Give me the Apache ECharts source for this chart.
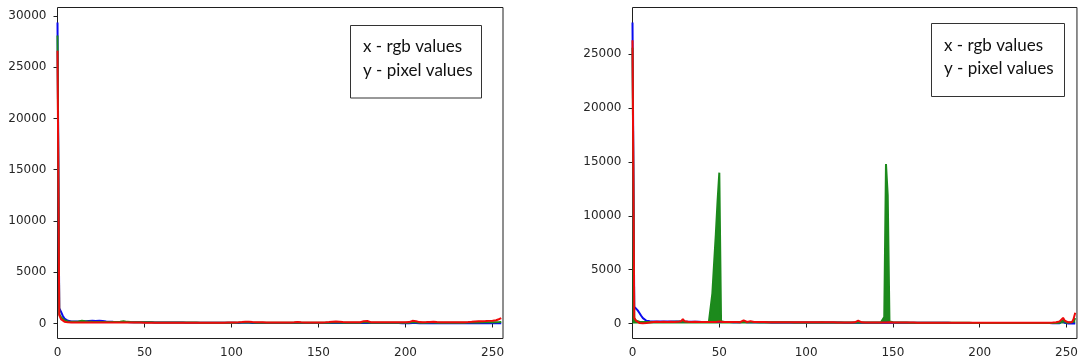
<!DOCTYPE html>
<html>
<head>
<meta charset="utf-8">
<script src="https://cdn.jsdelivr.net/npm/echarts@6/dist/echarts.min.js"></script>
<style>
  html, body { margin: 0; padding: 0; background: #fff; }
  #chart { width: 1081px; height: 362px; }
</style>
</head>
<body>
<div id="chart"></div>
<script>
// Per-channel colour histograms (256 bins each) for two images.
const xTicks = [0, 50, 100, 150, 200, 250];
const leftYTicks = [0, 5000, 10000, 15000, 20000, 25000, 30000];
const rightYTicks = [0, 5000, 10000, 15000, 20000, 25000];

const leftBlue = [
  29350,1500,1150,760,480,330,260,220,200,190,185,180,185,195,205,215,
  225,235,245,255,265,255,245,255,262,250,240,225,205,190,180,172,
  165,160,155,150,148,145,142,140,136,132,130,127,125,122,120,120,
  118,116,115,113,112,110,110,108,106,105,104,103,102,100,100,98,
  97,96,95,94,93,92,90,88,86,84,82,80,78,77,76,75,
  74,73,72,71,70,70,69,68,68,67,66,66,65,65,64,64,
  63,63,62,62,62,61,61,60,60,60,62,66,70,72,68,62,
  60,59,59,58,58,57,57,56,56,56,55,55,55,54,54,54,
  53,53,53,52,52,52,51,51,51,52,58,55,50,50,50,49,
  49,49,48,48,48,47,47,47,46,46,46,46,45,45,47,52,
  56,52,46,45,45,44,44,44,43,43,43,43,42,42,42,44,
  60,80,55,42,41,41,41,40,40,40,40,39,39,39,38,38,
  38,38,37,37,37,36,36,36,35,35,35,36,45,70,45,35,
  34,34,33,33,33,32,34,40,36,32,31,31,30,30,30,29,
  29,29,28,28,28,27,27,27,26,26,26,25,25,25,24,24,
  24,23,23,22,22,22,21,21,20,20,20,19,19,18,18,18
];
const leftGreen = [
  28100,900,620,430,310,240,200,180,170,168,170,178,195,230,265,250,
  210,190,178,170,165,162,158,155,153,152,150,148,146,144,142,141,
  140,140,143,155,180,215,225,190,160,145,138,132,128,125,122,120,
  118,116,114,113,112,111,110,109,108,107,106,105,104,103,102,101,
  100,99,98,97,96,95,94,93,92,91,90,89,88,88,87,86,
  86,85,84,84,83,83,82,82,81,81,80,80,80,79,79,79,
  78,78,78,77,77,77,78,82,88,95,100,104,108,110,105,95,
  88,84,82,80,79,78,78,77,77,76,76,76,75,75,75,74,
  74,74,74,73,73,73,74,78,85,95,102,92,82,76,74,73,
  73,72,72,72,72,71,71,71,71,72,74,78,84,92,100,106,
  110,104,95,88,83,80,78,77,76,76,76,75,75,75,78,90,
  140,220,130,85,78,76,75,75,74,74,74,74,74,73,73,73,
  73,73,73,72,72,72,72,72,72,74,80,95,150,200,120,85,
  80,78,78,80,85,92,100,108,102,92,85,80,78,77,76,76,
  76,76,76,76,76,77,77,78,79,80,82,84,86,88,92,96,
  100,104,108,110,112,114,115,116,118,120,122,125,128,130,135,140
];
const leftRed = [
  26600,820,430,270,180,130,110,100,95,92,90,90,92,95,98,100,
  102,101,104,100,98,101,103,99,100,97,99,96,98,95,97,94,
  96,93,95,92,96,94,91,93,90,92,89,91,88,90,87,89,
  86,88,85,87,84,86,83,85,82,84,81,83,80,82,79,81,
  80,78,80,77,79,76,78,75,77,74,76,73,75,72,74,71,
  73,70,72,69,71,68,70,68,69,67,69,68,70,69,72,74,
  78,82,86,90,94,98,104,110,118,126,135,145,160,175,165,150,
  140,132,126,120,115,112,110,108,106,104,102,100,98,96,95,94,
  93,92,92,91,92,94,98,104,112,122,140,128,112,104,100,98,
  96,95,94,94,95,96,98,102,108,116,124,132,142,152,165,175,
  185,178,165,150,140,132,126,122,118,116,115,114,115,118,125,145,
  230,400,240,150,130,124,122,120,118,116,115,114,113,112,112,112,
  112,112,112,113,114,115,116,118,120,125,135,160,260,340,230,150,
  135,130,128,130,136,145,158,170,160,148,138,130,125,122,120,118,
  116,115,114,113,113,113,114,115,117,120,124,130,138,148,160,172,
  185,200,210,218,225,232,240,248,256,265,275,290,320,370,440,530
];

const rightBlue = [
  27930,1560,1380,1220,980,720,500,350,260,215,200,195,190,188,186,185,
  188,192,185,180,182,186,190,184,178,182,188,192,186,180,176,172,
  168,165,162,160,158,156,154,152,150,148,146,144,142,140,140,140,
  140,140,140,138,136,134,132,130,128,126,124,122,120,120,120,140,
  160,130,120,125,140,130,120,118,116,114,112,110,108,106,105,104,
  103,102,101,100,99,98,97,96,95,94,93,92,91,90,90,90,
  89,89,88,88,88,87,87,86,86,86,86,88,92,96,94,90,
  88,87,86,85,84,84,83,83,82,82,81,81,80,80,80,80,
  80,82,90,84,80,79,79,78,78,77,77,77,76,76,76,76,
  75,75,75,80,90,85,76,74,73,72,72,71,71,70,70,70,
  69,69,68,68,67,67,66,66,65,65,64,64,63,63,62,62,
  62,61,61,60,60,60,59,59,58,58,58,57,57,56,56,56,
  55,55,55,54,54,54,53,53,52,52,52,51,51,51,50,50,
  50,49,49,48,48,48,47,47,47,46,46,45,45,45,44,44,
  44,43,43,43,42,42,41,41,40,40,40,39,39,38,38,38,
  37,36,35,34,33,32,30,40,300,60,10,8,6,5,5,4
];
const rightGreen = [
  25600,480,260,190,160,150,145,142,140,140,140,140,141,142,143,144,
  145,146,147,148,149,150,150,151,152,152,153,154,156,180,160,152,
  150,149,148,147,146,146,145,145,144,144,143,143,145,300,2800,5600,
  8300,11400,14000,200,150,148,146,145,144,143,142,141,140,140,140,140,
  150,140,135,134,140,136,132,130,128,126,124,122,120,119,118,117,
  116,115,114,113,112,111,110,109,108,107,106,105,104,103,102,101,
  100,100,99,99,98,98,97,97,96,96,96,98,102,106,104,100,
  98,97,96,95,94,93,92,91,90,90,89,89,88,88,87,87,
  87,88,95,90,86,86,85,85,84,84,84,83,83,83,82,90,
  110,600,14800,11900,200,120,110,100,96,94,92,90,88,86,84,82,
  80,79,78,77,76,75,74,73,72,71,70,70,69,69,68,68,
  67,67,66,66,65,65,64,64,63,63,62,62,62,61,61,60,
  60,60,59,59,58,58,58,57,57,56,56,56,55,55,55,54,
  54,54,53,53,53,52,52,52,51,51,51,50,50,50,50,49,
  49,49,48,48,48,47,47,47,46,46,46,45,45,45,44,44,
  44,44,43,43,43,45,60,120,260,120,80,80,85,90,180,500
];
const rightRed = [
  26300,520,260,110,50,30,25,28,40,60,90,120,140,150,152,150,
  148,150,152,154,150,148,152,156,150,148,152,160,200,420,200,160,
  155,150,148,150,152,148,145,150,148,144,146,142,145,140,142,138,
  140,150,180,140,135,138,134,136,132,134,130,132,128,130,126,140,
  300,160,140,150,220,170,140,132,130,128,130,126,128,124,126,122,
  124,120,122,118,120,116,118,114,116,112,114,110,112,110,112,108,
  110,108,110,106,108,106,108,104,106,104,106,108,114,122,118,110,
  108,106,108,104,106,102,104,100,102,98,100,98,100,96,98,96,
  110,160,260,150,110,100,98,96,97,95,96,94,95,93,94,92,
  93,94,100,120,110,95,92,90,92,90,91,89,90,88,89,87,
  88,86,84,82,80,78,76,75,74,74,73,73,72,72,71,71,
  70,70,70,69,69,69,68,68,68,67,67,67,66,66,66,66,
  65,65,66,68,70,72,70,68,66,65,65,64,64,64,63,63,
  63,63,62,62,62,62,61,61,61,61,60,60,60,60,60,60,
  60,60,60,61,61,62,62,63,64,65,66,67,68,70,72,75,
  78,82,88,96,110,130,200,350,520,260,130,110,100,105,400,1000
];

const BLUE = '#0a0aee';
const GREEN = '#1c8a1c';
const RED = '#ee0a0a';
const AXIS = '#1f1f1f';
const LABEL = '#262626';
const TICK_FONT = 'DejaVu Sans';

function pairs(arr) { return arr.map((v, i) => [i, v]); }
const plain = v => String(v);

function xAxisFor(gridIndex) {
  return {
    type: 'value', gridIndex, min: 0, max: 256,
    axisLine: { show: false },
    splitLine: { show: false },
    axisTick: { show: true, inside: false, length: 4, customValues: xTicks,
                lineStyle: { color: AXIS, width: 1 } },
    axisLabel: { customValues: xTicks, margin: 8, color: LABEL, formatter: plain,
                 fontFamily: TICK_FONT, fontSize: 12 }
  };
}
function yAxisFor(gridIndex, min, max, ticks) {
  return {
    type: 'value', gridIndex, min, max,
    axisLine: { show: false },
    splitLine: { show: false },
    axisTick: { show: true, inside: false, length: 4, customValues: ticks,
                lineStyle: { color: AXIS, width: 1 } },
    axisLabel: { customValues: ticks, margin: 11, color: LABEL, formatter: plain,
                 fontFamily: TICK_FONT, fontSize: 12 }
  };
}
function lineSeries(idx, data, color, filled) {
  const s = {
    type: 'line', xAxisIndex: idx, yAxisIndex: idx,
    data: pairs(data), showSymbol: false, symbol: 'none',
    lineStyle: { color, width: 2 }, itemStyle: { color },
    silent: true, z: 2
  };
  if (filled) s.areaStyle = { color, opacity: 1, origin: 0 };
  return s;
}
function noteBox(x, y, w, h, tx, ty1, ty2) {
  const font = { fontFamily: 'Lato', fontSize: 17, fill: '#111' };
  return {
    type: 'group',
    children: [
      { type: 'rect', shape: { x, y, width: w, height: h },
        style: { fill: '#fff', stroke: '#333', lineWidth: 1 }, z: 10 },
      { type: 'text', x: tx, y: ty1, style: Object.assign({ text: 'x - rgb values', verticalAlign: 'middle' }, font), z: 11 },
      { type: 'text', x: tx, y: ty2, style: Object.assign({ text: 'y - pixel values', verticalAlign: 'middle' }, font), z: 11 }
    ]
  };
}

const chart = echarts.init(document.getElementById('chart'), null, { renderer: 'canvas' });
chart.setOption({
  animation: false,
  backgroundColor: '#fff',
  grid: [
    { left: 57.5, top: 7.5, width: 445.5, height: 331, show: true,
      borderColor: AXIS, borderWidth: 1, backgroundColor: 'transparent' },
    { left: 632.5, top: 7.5, width: 445.5, height: 331, show: true,
      borderColor: AXIS, borderWidth: 1, backgroundColor: 'transparent' }
  ],
  xAxis: [xAxisFor(0), xAxisFor(1)],
  yAxis: [
    yAxisFor(0, -1463, 30820, leftYTicks),
    yAxisFor(1, -1392, 29332, rightYTicks)
  ],
  series: [
    lineSeries(0, leftBlue, BLUE, false),
    lineSeries(0, leftGreen, GREEN, false),
    lineSeries(0, leftRed, RED, false),
    lineSeries(1, rightBlue, BLUE, false),
    lineSeries(1, rightGreen, GREEN, true),
    lineSeries(1, rightRed, RED, false)
  ],
  graphic: [
    noteBox(350.5, 25.5, 131, 72.5, 363, 47, 70.5),
    noteBox(931.5, 23.5, 133, 73, 944, 45.5, 69)
  ]
});
</script>
</body>
</html>
